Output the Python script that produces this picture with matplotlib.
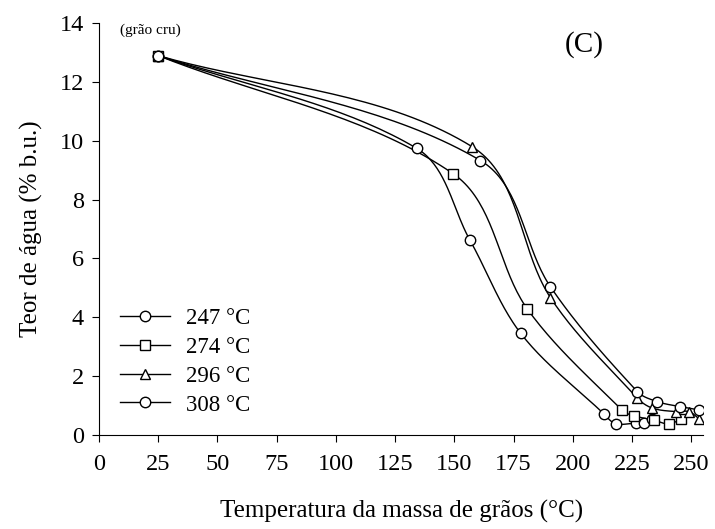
import numpy as np
import matplotlib
matplotlib.use("Agg")
import matplotlib.pyplot as plt

plt.rcParams["font.family"] = ["Liberation Serif", "DejaVu Serif"]

# temperatura da massa (°C) e teor de água (% b.u.)
t247 = [25, 134, 156.5, 178, 213, 218, 226.5, 230, 233.5]
u247 = [12.9, 9.75, 6.63, 3.45, 0.72, 0.38, 0.4, 0.4, 0.55]
t274 = [25, 149.5, 180.7, 220.8, 225.7, 234.2, 240.5, 245.5]
u274 = [12.9, 8.88, 4.29, 0.83, 0.65, 0.5, 0.37, 0.53]
t296 = [25, 157.5, 190.5, 227.2, 233.5, 243.4, 249, 253.2]
u296 = [12.9, 9.8, 4.67, 1.25, 0.91, 0.79, 0.79, 0.55]
t308 = [25, 161, 190.5, 227.2, 235.6, 245.2, 253.2]
u308 = [12.9, 9.33, 5.04, 1.47, 1.13, 0.96, 0.85]

labels = ["247 °C", "274 °C", "296 °C", "308 °C"]
markers = ["o", "s", "^", "o"]


def smooth(x, y, n=40, sx=2.37, sy=29.4):
    # bezier through the points, tangents from neighbours (screen scaled)
    P = np.column_stack([np.asarray(x, float) * sx, np.asarray(y, float) * sy])
    k = len(P)
    T = np.zeros_like(P)
    for i in range(k):
        a = P[max(i - 1, 0)]
        b = P[min(i + 1, k - 1)]
        d = b - a
        T[i] = d / np.hypot(*d)
    s = np.linspace(0, 1, n)[:, None]
    out = []
    for i in range(k - 1):
        L = np.hypot(*(P[i + 1] - P[i]))
        c1 = P[i] + T[i] * L / 3
        c2 = P[i + 1] - T[i + 1] * L / 3
        seg = ((1 - s) ** 3 * P[i] + 3 * (1 - s) ** 2 * s * c1
               + 3 * (1 - s) * s ** 2 * c2 + s ** 3 * P[i + 1])
        out.append(seg)
    out = np.vstack(out)
    return out[:, 0] / sx, out[:, 1] / sy


fig = plt.figure(figsize=(7.15, 5.29), dpi=100)
ax = fig.add_axes([0.1385, 0.178, 0.845, 0.778])

series = [(t247, u247), (t274, u274), (t296, u296), (t308, u308)]
for (t, u), lab, m in zip(series, labels, markers):
    cx, cy = smooth(t, u)
    ax.plot(cx, cy, color="black", lw=1.0, zorder=2)
    ax.plot(t, u, linestyle="none", marker=m, markersize=7.5,
            markerfacecolor="white", markeredgecolor="black",
            markeredgewidth=1.0, zorder=3)
    ax.plot([], [], color="black", lw=1.0, marker=m, markersize=7.5,
            markerfacecolor="white", markeredgecolor="black", label=lab)

ax.set_xlim(0, 255)
ax.set_ylim(0, 14)
ax.set_xticks(np.arange(0, 251, 25))
ax.set_yticks(np.arange(0, 15, 2))
ax.spines["top"].set_visible(False)
ax.spines["right"].set_visible(False)
ax.tick_params(direction="out", length=5, labelsize=17.5, pad=6)
ax.tick_params(axis="x", pad=9)

ax.set_xlabel("Temperatura da massa de grãos (°C)", fontsize=18, labelpad=18)
ax.set_ylabel("Teor de água (% b.u.)", fontsize=18, labelpad=12)

ax.text(21.5, 13.55, "(grão cru)", fontsize=11, ha="center", va="bottom")
ax.text(205, 13.27, "(C)", fontsize=21, ha="center", va="center")

ax.legend(loc="lower left", bbox_to_anchor=(0.008, 0.008), frameon=False,
          fontsize=16.5, handlelength=2.2, labelspacing=0.34,
          borderaxespad=0.3, handletextpad=0.7)

fig.savefig("out.png", dpi=100)
